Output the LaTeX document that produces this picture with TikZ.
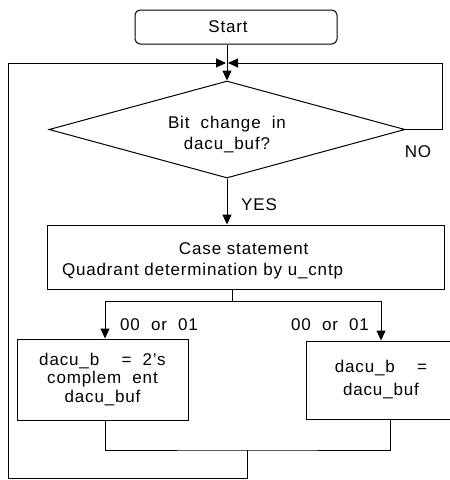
\documentclass[tikz,border=0pt]{standalone}
\usepackage{fontspec}
\setmainfont{Liberation Sans}[WordSpace=2, LetterSpace=5]
\usetikzlibrary{shapes.geometric,arrows.meta}

% invisible strut that lowers a multi-line block inside its node
\newcommand{\dropstrut}[1]{\rule{0pt}{#1}}

\begin{document}
\begin{tikzpicture}[x=1pt, y=-1pt, line width=1pt,
  txt/.style={font=\fontsize{17}{21}\selectfont, inner sep=0pt},
  box/.style={draw, rectangle, txt, align=center},
  arr/.style={-{Triangle[length=10pt,width=9pt]}},
]
\useasboundingbox (0,0) rectangle (450,480);

% process blocks
\node[box, rounded corners=5pt, minimum width=202pt, minimum height=34pt]
  (start) at (236,27) {Start\hspace*{16pt}};
\node[draw, diamond, txt, aspect=3.7, minimum width=356pt, minimum height=97pt, align=center]
  (dia) at (227,129.5) {\dropstrut{22pt}Bit change in\\dacu\_buf?};
\node[box, minimum width=397pt, minimum height=64pt, text width=367pt, align=left]
  (case) at (245.5,257) {\hspace*{117pt}\dropstrut{20pt}Case statement\\Quadrant determination by u\_cntp};
\node[box, minimum width=171pt, minimum height=81pt, font=\fontsize{17}{18.5}\selectfont]
  (lbox) at (102.5,379.5) {dacu\_b\ \ = 2's\\complem ent\\dacu\_buf};
\node[box, minimum width=150pt, minimum height=78pt, font=\fontsize{17}{23}\selectfont]
  (rbox) at (381,380) {dacu\_b\ \ =\\dacu\_buf};

% labels
\node[txt] (no) at (418,152) {NO};
\node[txt] (yes) at (259,205) {YES};
\node[txt] (c1) at (159,325) {00 or 01};
\node[txt] (c2) at (330,325) {00 or 01};

% junctions
\coordinate (jtop) at (227,63);
\coordinate (rloop) at (442,129.5);
\coordinate (split) at (232,301);
\coordinate (mrg) at (247,450);
\coordinate (botL) at (8,478);

% connectors
\draw[arr] (start.south -| dia.north) -- (dia.north);
\draw[arr, shorten >=1pt] (dia.east) -- (rloop) |- (jtop);
\draw[arr, shorten >=1pt] (mrg) |- (botL) |- (jtop);
\draw[arr] (dia.south) -- (dia.south |- case.north);
\draw (case.south -| split) -- (split);
\draw[arr] (split) -| ([xshift=2.5pt]lbox.north);
\draw[arr] (split) -| (rbox.north);
\draw ([xshift=2.5pt]lbox.south) |- (mrg) -| ([xshift=9pt]rbox.south);
\end{tikzpicture}
\end{document}
